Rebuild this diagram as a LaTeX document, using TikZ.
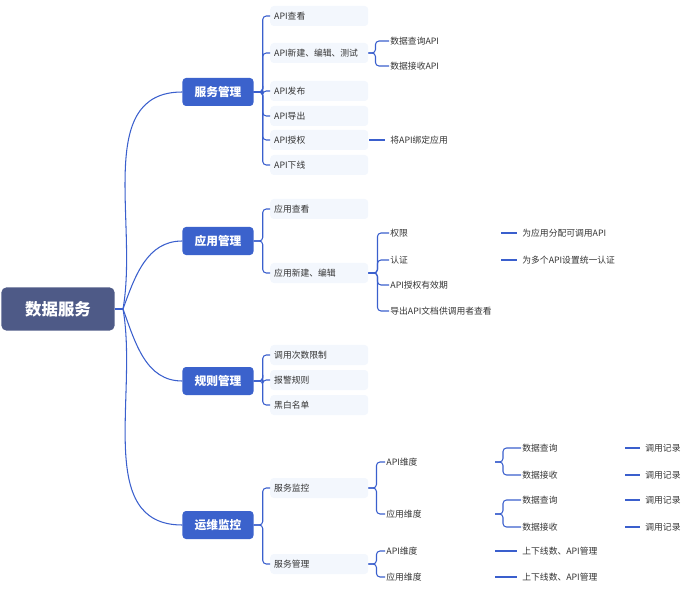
\documentclass[tikz,border=0pt]{standalone}
\usepackage{fontspec}
\setmainfont{Noto Sans CJK SC}
\usetikzlibrary{calc}
\definecolor{rootblue}{HTML}{4E5A87}
\definecolor{mainblue}{HTML}{3B62CC}
\definecolor{linkblue}{HTML}{3A5FCD}
\definecolor{paleblue}{HTML}{F3F7FD}
\definecolor{txtgray}{HTML}{333333}

\tikzset{
    root/.style={fill=rootblue, text=white, rounded corners=4pt, font=\fontsize{14}{16}\selectfont\bfseries,
        minimum width=3.39cm, minimum height=1.29cm},
    topic/.style={fill=mainblue, text=white, rounded corners=3pt, font=\fontsize{10}{12}\selectfont\bfseries,
        minimum width=2.13cm, minimum height=0.84cm},
    sub/.style={fill=paleblue, text=txtgray, rounded corners=3pt, font=\fontsize{7.5}{9}\selectfont,
        anchor=west, text width=2.7cm, inner xsep=0.12cm, minimum height=0.6cm, align=left},
    leaf/.style={text=txtgray, font=\fontsize{7.5}{9}\selectfont, anchor=west, inner xsep=1pt},
    link/.style={draw=linkblue, line width=0.9pt, rounded corners=3pt},
}
\newcommand{\fork}[3]{\draw[link] (#1.east) -- ($(#1.east)+(#3,0)$) |- (#2.west);}

\begin{document}
\begin{tikzpicture}[x=0.03cm, y=-0.03cm]
    \useasboundingbox (0,0) rectangle (692,592);

    % centre
    \node[root] (data) at (58,309) {数据服务};
    \coordinate (hub) at (123,309);

    % first level
    \node[topic] (svc) at (218,92) {服务管理};
    \node[topic] (app) at (218,241) {应用管理};
    \node[topic] (rule) at (218,381) {规则管理};
    \node[topic] (ops) at (218,525) {运维监控};

    \draw[link] (data.east) -- (hub);
    \draw[link] (hub) to[out=80,in=180] (svc.west);
    \draw[link] (hub) to[out=70,in=180] (app.west);
    \draw[link] (hub) to[out=-70,in=180] (rule.west);
    \draw[link] (hub) to[out=-80,in=180] (ops.west);

    % service management
    \node[sub] (svcView) at (270,16) {API查看};
    \node[sub] (svcEdit) at (270,53) {API新建、编辑、测试};
    \node[sub] (svcPub) at (270,91) {API发布};
    \node[sub] (svcExp) at (270,116) {API导出};
    \node[sub] (svcAuth) at (270,140) {API授权};
    \node[sub] (svcOff) at (270,165) {API下线};
    \foreach \c in {svcView,svcEdit,svcPub,svcExp,svcAuth,svcOff}
        {\fork{svc}{\c}{9}}

    \node[leaf] (svcQuery) at (389,41) {数据查询API};
    \node[leaf] (svcRecv) at (389,66) {数据接收API};
    \node[leaf] (svcBind) at (389,140) {将API绑定应用};
    \fork{svcEdit}{svcQuery}{7}
    \fork{svcEdit}{svcRecv}{7}
    \draw[link] ($(svcAuth.east)+(1,0)$) -- ($(svcBind.west)+(-4,0)$);

    % application management
    \node[sub] (appView) at (270,209) {应用查看};
    \node[sub] (appEdit) at (270,273) {应用新建、编辑};
    \fork{app}{appView}{9}
    \fork{app}{appEdit}{9}

    \node[leaf] (appPerm) at (389,233) {权限};
    \node[leaf] (appCert) at (389,260) {认证};
    \node[leaf] (appTerm) at (389,285) {API授权有效期};
    \node[leaf] (appDoc) at (389,311) {导出API文档供调用者查看};
    \foreach \c in {appPerm,appCert,appTerm,appDoc}
        {\fork{appEdit}{\c}{9}}

    \node[leaf] (appPermTxt) at (521,233) {为应用分配可调用API};
    \node[leaf] (appCertTxt) at (521,260) {为多个API设置统一认证};
    \draw[link] (501,233) -- ($(appPermTxt.west)+(-4,0)$);
    \draw[link] (501,260) -- ($(appCertTxt.west)+(-4,0)$);

    % rule management
    \node[sub] (ruleLimit) at (270,355) {调用次数限制};
    \node[sub] (ruleAlarm) at (270,380) {报警规则};
    \node[sub] (ruleList) at (270,405) {黑白名单};
    \foreach \c in {ruleLimit,ruleAlarm,ruleList}
        {\fork{rule}{\c}{9}}

    % operations monitoring
    \node[sub] (opsMon) at (270,488) {服务监控};
    \node[sub] (opsMgr) at (270,564) {服务管理};
    \fork{ops}{opsMon}{9}
    \fork{ops}{opsMgr}{9}

    \node[leaf] (monApi) at (385,462) {API维度};
    \node[leaf] (monApp) at (385,514) {应用维度};
    \fork{opsMon}{monApi}{8}
    \fork{opsMon}{monApp}{8}
    \node[leaf] (mgrApi) at (385,551) {API维度};
    \node[leaf] (mgrApp) at (385,577) {应用维度};
    \fork{opsMgr}{mgrApi}{8}
    \fork{opsMgr}{mgrApp}{8}

    \coordinate (monApiEnd) at (495,462);
    \coordinate (monAppEnd) at (495,514);
    \node[leaf] (apiQuery) at (521,448) {数据查询};
    \node[leaf] (apiRecv) at (521,475) {数据接收};
    \node[leaf] (appQuery) at (521,500) {数据查询};
    \node[leaf] (appRecv) at (521,527) {数据接收};
    \draw[link] (monApiEnd) -- ++(8,0) |- (apiQuery.west);
    \draw[link] (monApiEnd) -- ++(8,0) |- (apiRecv.west);
    \draw[link] (monAppEnd) -- ++(8,0) |- (appQuery.west);
    \draw[link] (monAppEnd) -- ++(8,0) |- (appRecv.west);

    \foreach \y/\n in {448/logA,475/logB,500/logC,527/logD} {
        \node[leaf] (\n) at (644,\y) {调用记录};
        \draw[link] (625,\y) -- ($(\n.west)+(-4,0)$);
    }

    \node[leaf] (mgrApiTxt) at (521,551) {上下线数、API管理};
    \node[leaf] (mgrAppTxt) at (521,577) {上下线数、API管理};
    \draw[link] (495,551) -- ($(mgrApiTxt.west)+(-4,0)$);
    \draw[link] (495,577) -- ($(mgrAppTxt.west)+(-4,0)$);
\end{tikzpicture}
\end{document}
